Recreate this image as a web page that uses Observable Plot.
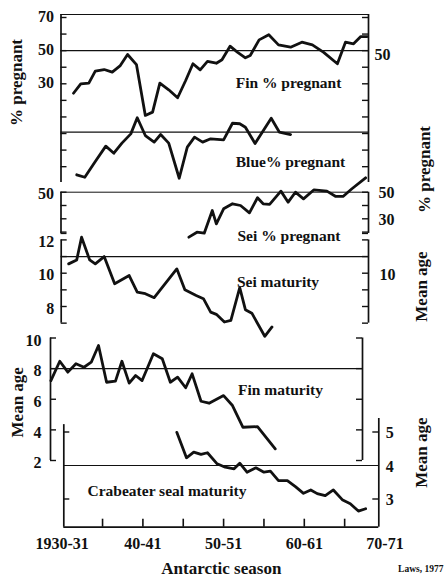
<!DOCTYPE html>
<html>
<head>
<meta charset="utf-8">
<script src="https://cdn.jsdelivr.net/npm/d3@7"></script>
<script src="https://cdn.jsdelivr.net/npm/@observablehq/plot@0.6"></script>
<style>
  body { margin: 0; background: #fff; }
  #chart { position: relative; width: 447px; height: 579px; background: #fff; }
  #chart svg { position: absolute; left: 0; top: 0; }
</style>
</head>
<body>
<div id="chart"></div>
<script>
// ---------- data ----------
const finPregYears  = [1931.4,1932.3,1933.3,1934.1,1935.2,1936.2,1937.2,1938.1,1939.2,1940.3,1941.2,1942.1,1943.2,1944.3,1945.3,1946.2,1947.1,1948.0,1949.1,1949.8,1950.8,1951.7,1952.7,1953.3,1954.4,1955.6,1956.8,1958.3,1959.7,1961.0,1962.4,1964.1,1965.1,1966.1,1967.0,1967.8];
const finPregValues = [24.3,30.0,30.4,37.6,38.6,37.0,41.0,47.7,41.6,10.9,12.9,30.4,26.4,21.6,32.0,42.1,38.4,43.5,42.4,44.5,52.7,49.1,45.7,47.1,56.5,59.6,53.5,52.1,55.1,53.5,49.0,42.1,55.1,54.1,58.5,58.5];

const bluePregYears  = [1931.8,1932.8,1934.1,1935.4,1936.4,1937.4,1938.5,1939.3,1940.3,1941.4,1942.2,1943.2,1944.5,1945.5,1946.4,1947.4,1948.4,1950.0,1951.1,1952.0,1952.7,1953.9,1955.9,1956.9,1958.3];
const bluePregValues = [24.3,22.8,32.3,41.6,37.3,43.4,49.0,58.7,48.0,44.0,48.6,43.4,22.2,41.0,47.0,44.0,46.0,45.4,55.4,55.1,53.0,43.2,58.4,50.1,48.6];

const seiPregYears  = [1945.7,1946.7,1947.6,1948.6,1949.1,1950.0,1951.1,1952.1,1953.2,1954.2,1954.9,1955.7,1957.1,1958.0,1958.9,1959.9,1961.2,1962.8,1963.9,1964.8,1965.9,1967.6];
const seiPregValues = [16.2,19.9,19.2,36.2,26.2,37.5,41.3,40.0,34.5,45.8,41.3,40.8,50.8,42.5,50.0,45.0,51.8,50.8,46.8,46.8,52.6,60.8];

const seiMatYears  = [1930.8,1931.8,1932.4,1933.4,1934.1,1935.2,1936.5,1938.3,1939.3,1940.3,1941.4,1944.2,1945.2,1946.6,1947.5,1948.4,1949.1,1950.1,1950.9,1952.0,1952.7,1953.5,1955.1,1956.0];
const seiMatValues = [10.56,10.80,12.16,10.80,10.56,11.0,9.37,9.86,8.86,8.77,8.53,10.26,9.0,8.66,8.47,7.66,7.53,7.07,7.17,9.13,7.81,7.6,6.21,6.77];

const finMatYears  = [1928.6,1929.7,1930.7,1931.7,1932.7,1933.6,1934.5,1935.5,1936.6,1937.4,1938.3,1939.1,1939.9,1941.3,1942.4,1943.4,1944.3,1945.3,1946.1,1947.2,1948.2,1950.0,1951.1,1952.4,1954.2,1956.4];
const finMatValues = [7.22,8.48,7.77,8.32,8.09,8.42,9.51,7.11,7.18,8.48,7.05,7.55,7.22,8.97,8.64,7.11,7.44,6.75,7.66,5.87,5.74,6.24,5.59,4.17,4.21,2.76];

const crabYears  = [1944.2,1945.4,1946.3,1947.2,1948.0,1949.2,1950.2,1951.3,1952.0,1952.9,1954.0,1955.0,1955.8,1956.8,1957.9,1958.9,1959.9,1960.8,1961.6,1962.6,1963.6,1964.7,1965.7,1966.7,1967.6];
const crabValues = [4.99,4.23,4.40,4.33,4.38,4.05,3.95,3.90,4.07,3.80,3.93,3.80,3.83,3.55,3.55,3.37,3.17,3.27,3.16,3.10,3.27,2.98,2.86,2.64,2.71];

const xTickYears  = [1930, 1940, 1950, 1960, 1970];
const xTickLabels = ["1930-31", "40-41", "50-51", "60-61", "70-71"];
const xMinorTicks = [1935, 1940, 1945, 1950, 1955, 1960, 1965];

// ---------- layout ----------
const W = 447, H = 579;
const X_DOMAIN = [1930, 1970], X_RANGE = [61.7, 384.5];
const xAt = px => X_DOMAIN[0] + (px - X_RANGE[0]) * (X_DOMAIN[1] - X_DOMAIN[0]) / (X_RANGE[1] - X_RANGE[0]);
const FONT = "'Liberation Serif','Times New Roman',Times,serif";
const INK = "#111";

const zip = (xs, ys) => xs.map((x, i) => ({x, y: ys[i]}));

function panel(box, yDomain, marks) {
  const [L, T, R, B] = box;
  return Plot.plot({
    width: W, height: H,
    marginLeft: L, marginRight: W - R, marginTop: T, marginBottom: H - B,
    x: {domain: X_DOMAIN, range: X_RANGE, axis: null},
    y: {domain: yDomain, axis: null},
    style: {background: "transparent", fontFamily: FONT, fontWeight: "bold", fontSize: "16px", color: INK, overflow: "visible"},
    marks
  });
}
const edgeL = (box, o = {}) => Plot.ruleX([xAt(box[0])], {stroke: INK, strokeWidth: 1.7, ...o});
const edgeR = (box, o = {}) => Plot.ruleX([xAt(box[2])], {stroke: INK, strokeWidth: 1.7, ...o});
const hRule = (v, w = 1.2) => Plot.ruleY([v], {stroke: INK, strokeWidth: w});
const ticksL = (box, vals, len = 6) => Plot.tickY(vals, {y: d => d, insetRight: (box[2] - box[0]) - len, stroke: INK, strokeWidth: 1.4});
const ticksR = (box, vals, len = 6) => Plot.tickY(vals, {y: d => d, insetLeft: (box[2] - box[0]) - len, stroke: INK, strokeWidth: 1.4});
const labelsL = (vals, pad, o = {}) => Plot.axisY({anchor: "left", ticks: vals, tickSize: 0, tickPadding: pad, tickFormat: d => String(d), label: null, fontSize: 16, ...o});
const labelsR = (vals, pad, o = {}) => Plot.axisY({anchor: "right", ticks: vals, tickSize: 0, tickPadding: pad, tickFormat: d => String(d), label: null, fontSize: 16, ...o});
const dataLine = (xs, ys) => Plot.line(zip(xs, ys), {x: "x", y: "y", stroke: INK, strokeWidth: 2.8, strokeLinejoin: "round", strokeLinecap: "round"});
const tag = (text, x, y) => Plot.text([text], {x: () => x, y: () => y, text: d => d, fontSize: 15.5, fill: INK});
const title = (text, anchor, dx, dy) => Plot.text([text], {text: d => d, frameAnchor: anchor, textAnchor: "middle", lineAnchor: "middle", rotate: -90, dx, dy, fontSize: 17, fill: INK});

const chart = document.getElementById("chart");

// Panel 1: Fin and Blue % pregnant
const box1 = [60.5, 14, 368, 182];
const finDom = [-29.55, 71.81];
const blueDom = [19.65, 121.01];
const tk1 = [-20, -10, 0, 10, 20, 30, 40, 50, 60, 70];
chart.append(panel(box1, finDom, [
  hRule(finDom[1], 1),
  edgeL(box1), edgeR(box1),
  ticksL(box1, tk1), ticksR(box1, tk1),
  hRule(50),
  dataLine(finPregYears, finPregValues),
  tag("Fin % pregnant", xAt(288), 30.2),
  labelsL([70, 50, 30], 7, {dy: -1}),
  labelsR([50], 6, {dy: 4}),
  title("% pregnant", "left", -44.5, -16)
]));
chart.append(panel(box1, blueDom, [
  hRule(50),
  dataLine(bluePregYears, bluePregValues),
  tag("Blue% pregnant", xAt(290), 31.7)
]));

// Panel 2: Sei % pregnant
const box2 = [60.5, 191.7, 368, 232.93];
const seiPDom = [19, 50];
const tk2 = [19, 20, 30, 40, 50];
chart.append(panel(box2, seiPDom, [
  hRule(seiPDom[1], 1),
  edgeL(box2), edgeR(box2),
  ticksL(box2, tk2), ticksR(box2, tk2),
  dataLine(seiPregYears, seiPregValues),
  tag("Sei % pregnant", xAt(288.5), 17.4),
  labelsL([50], 7, {dy: 2}),
  labelsR([50, 30], 10, {dy: 1}),
  title("% pregnant", "right", 56, -43.3)
]));

// Panel 3: Sei maturity
const box3 = [60.7, 239.4, 368, 322.65];
const seiMDom = [7, 12];
const tk3 = [7, 8, 9, 10, 11, 12];
chart.append(panel(box3, seiMDom, [
  edgeL(box3), edgeR(box3),
  ticksL(box3, tk3), ticksR(box3, tk3),
  hRule(11),
  dataLine(seiMatYears, seiMatValues),
  tag("Sei maturity", xAt(277.5), 9.44),
  labelsL([12, 10, 8], 7, {dy: 2}),
  labelsR([10], 11, {dy: 2}),
  title("Mean age", "right", 53, 5)
]));

// Panel 4: Fin maturity
const box4 = [50, 337.5, 362, 460];
const finMDom = [2, 10];
const tk4 = [2, 4, 6, 8, 10];
chart.append(panel(box4, finMDom, [
  edgeL(box4), edgeR(box4),
  ticksL(box4, tk4), ticksR(box4, tk4),
  hRule(8),
  dataLine(finMatYears, finMatValues),
  tag("Fin maturity", xAt(280), 6.57),
  labelsL([10, 8, 6, 4, 2], 9, {dy: 2.5}),
  title("Mean age", "left", -33, 3)
]));

// Panel 5: Crabeater seal maturity + x axis
const box5 = [63.3, 418, 378.3, 526.7];
const crabDom = [2.158, 5.403];
chart.append(panel(box5, crabDom, [
  edgeL(box5, {y1: crabDom[0], y2: 5.22}), edgeR(box5),
  hRule(crabDom[0], 1.7),
  ticksL(box5, [3, 5]), ticksR(box5, [3, 5]),
  hRule(4),
  Plot.tickX(xMinorTicks, {x: d => d, insetTop: (box5[3] - box5[1]) - 8, stroke: INK, strokeWidth: 1.6}),
  dataLine(crabYears, crabValues),
  tag("Crabeater seal maturity", xAt(166.5), 3.25),
  labelsR([5, 4, 3], 7, {dy: 1}),
  Plot.axisX({anchor: "bottom", ticks: xTickYears, tickSize: 0, tickPadding: 10, tickFormat: d => xTickLabels[xTickYears.indexOf(d)], label: null, fontSize: 16}),
  Plot.text(["Antarctic season"], {text: d => d, frameAnchor: "bottom", lineAnchor: "middle", dy: 41.3, fontSize: 17, fill: INK}),
  Plot.text(["Laws, 1977"], {text: d => d, frameAnchor: "bottom-right", textAnchor: "end", lineAnchor: "middle", dx: 64.7, dy: 42, fontSize: 9.5, fill: INK}),
  title("Mean age", "right", 42.7, -20.3)
]));
</script>
</body>
</html>
